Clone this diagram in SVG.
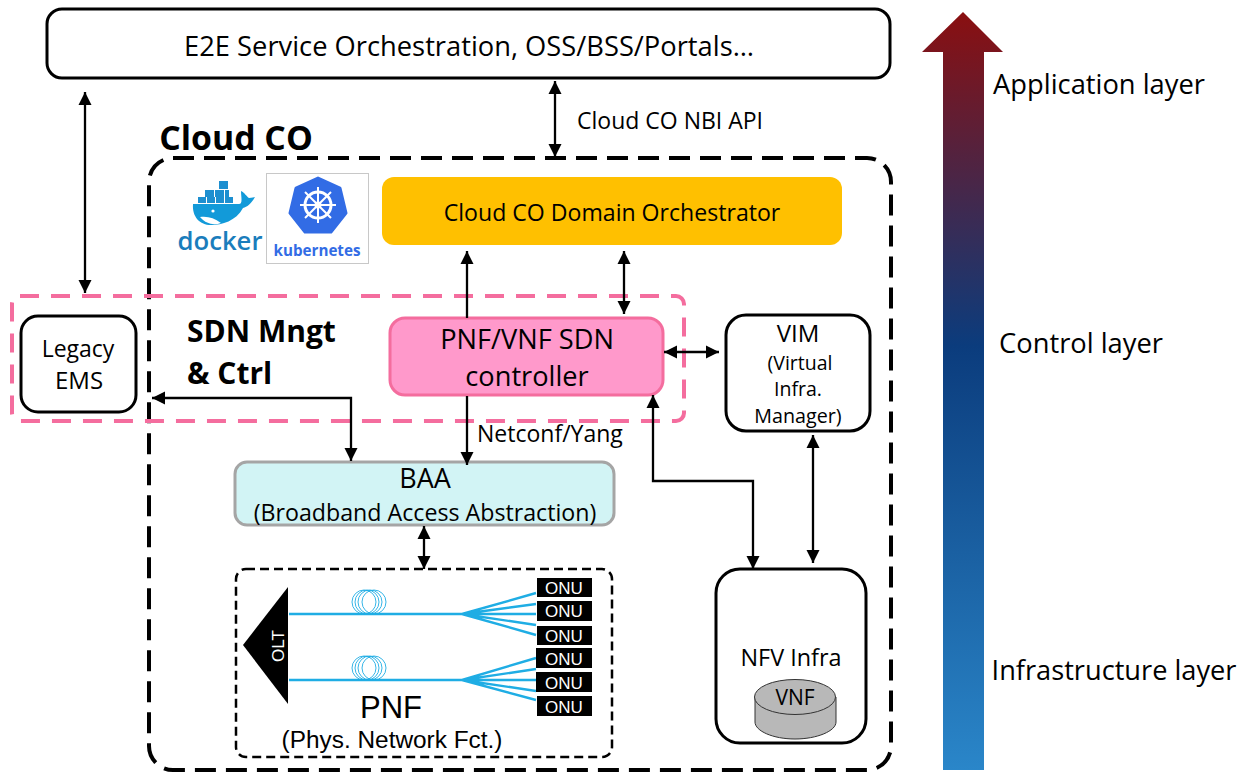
<svg xmlns="http://www.w3.org/2000/svg" width="1247" height="774" viewBox="0 0 1247 774">
<style>
text{font-family:"Open Sans","Noto Sans","Liberation Sans",sans-serif;fill:#000;text-anchor:middle}
.box{fill:#fff;stroke:#000;stroke-width:3}
.c{fill:none;stroke:#000;stroke-width:2.3}
.f{fill:none;stroke:#1fade4;stroke-width:2.4}
.coil{fill:none;stroke:#1fade4;stroke-width:.9}
.onu rect{fill:#000}
.onu text{fill:#fff;font-size:17px;font-family:"Liberation Sans",sans-serif}
.l{text-anchor:start}
</style>
<defs>
<linearGradient id="g" x1="0" y1="0" x2="0" y2="1">
<stop offset="0" stop-color="#8a0f10"/><stop offset=".44" stop-color="#0b3c7d"/><stop offset="1" stop-color="#2a86c9"/>
</linearGradient>
<marker id="a" markerUnits="userSpaceOnUse" markerWidth="14" markerHeight="14" refX="13" refY="7" orient="auto-start-reverse"><path d="M0 .5L13 7L0 13.5Z" fill="#000"/></marker>
</defs>

<g id="layer-arrow">
<path d="M963 12L1003 52H984V770H943V52H922Z" fill="url(#g)"/>
<text x="1099" y="94" font-size="27.300">Application layer</text>
<text x="1081" y="353" font-size="27.300">Control layer</text>
<text x="1114" y="680" font-size="27.200">Infrastructure layer</text>
</g>

<g id="cloud-co-frame">
<rect x="149" y="158" width="742" height="612" rx="24" fill="none" stroke="#000" stroke-width="4" stroke-dasharray="21 10"/>
<text x="236" y="149.500" font-size="33.800" font-weight="700">Cloud CO</text>
</g>

<g id="e2e"><rect class="box" x="47" y="9" width="843" height="69" rx="15"/>
<text x="469" y="56" font-size="27.300">E2E Service Orchestration, OSS/BSS/Portals…</text></g>

<g id="docker">
<g fill="#1d8fd0">
<rect x="219" y="181" width="9" height="8"/><rect x="205" y="190" width="9" height="7"/><rect x="215" y="190" width="9" height="7"/><rect x="225" y="190" width="4" height="7"/>
<rect x="198" y="197" width="8" height="6"/><rect x="207" y="197" width="8" height="6"/><rect x="216" y="197" width="8" height="6"/><rect x="225" y="197" width="8" height="6"/>
<path d="M193 204H239C243 204 241 197 241 191C245 193 247 197 249 198C252 198 254 197 255 197C251 204 247 207 243 208C236 221 222 225 211 225C200 225 192 217 193 204Z" fill="#129ad9"/>
</g>
<path d="M200 217C208 216 214 218 221 223C213 226 205 223 200 217Z" fill="#fff"/>
<circle cx="213" cy="211" r="1.6" fill="#fff"/>
<text x="220" y="250" font-size="25.700" font-weight="600" style="fill:#1a7dbc">docker</text>
</g>

<g id="kubernetes">
<rect x="266.500" y="173.500" width="102" height="90" fill="#fff" stroke="#c8c8c8"/>
<path d="M318 178L340 188L346 213L331 232H305L290 213L296 188Z" fill="#326ce5" stroke="#326ce5" stroke-width="3" stroke-linejoin="round"/>
<circle cx="318" cy="205" r="13" fill="none" stroke="#fff" stroke-width="3"/>
<path d="M318 187V223M300 205H336M305 192L331 218M331 192L305 218" stroke="#fff" stroke-width="2"/>
<circle cx="318" cy="205" r="3.500" fill="#fff"/>
<text x="317" y="255.500" font-size="15.200" font-weight="700" style="fill:#326ce5">kubernetes</text>
</g>

<g id="domain-orchestrator"><rect x="382" y="177" width="460" height="68" rx="12" fill="#ffc000"/>
<text x="612" y="220.500" font-size="23.100">Cloud CO Domain Orchestrator</text></g>

<g id="sdn-frame">
<rect x="12" y="296" width="672" height="125" rx="8" fill="none" stroke="#f46d9e" stroke-width="4" stroke-dasharray="19 12"/>
<text class="l" x="187" y="342" font-size="30" font-weight="700">SDN Mngt</text>
<text class="l" x="187" y="384" font-size="30" font-weight="700">&amp; Ctrl</text>
</g>

<g id="legacy-ems"><rect class="box" x="21" y="316" width="115" height="96" rx="17"/>
<text x="78" y="357" font-size="23">Legacy</text><text x="79" y="389" font-size="24">EMS</text></g>

<g id="sdn-controller"><rect x="390" y="318" width="273" height="77" rx="15" fill="#ff99cb" stroke="#f46d9e" stroke-width="3"/>
<text x="527" y="349" font-size="27.200">PNF/VNF SDN</text><text x="527" y="386" font-size="27.200">controller</text></g>

<g id="vim"><rect class="box" x="726" y="315" width="144" height="116" rx="20"/>
<text x="798" y="342" font-size="24">VIM</text><text x="800" y="370" font-size="19.500">(Virtual</text><text x="798" y="396" font-size="19.500">Infra.</text><text x="798" y="423" font-size="19.700">Manager)</text></g>

<g id="baa"><rect x="235" y="462" width="379" height="63" rx="12" fill="#d2f4f5" stroke="#a5a5a5" stroke-width="3"/>
<text x="425" y="488" font-size="27">BAA</text><text x="425" y="521" font-size="23.200">(Broadband Access Abstraction)</text></g>

<g id="pnf">
<rect x="236" y="569" width="376" height="188" rx="10" fill="none" stroke="#000" stroke-width="2.500" stroke-dasharray="9 5"/>
<path d="M288 587V704L243 645Z" fill="#000"/>
<text transform="translate(284 646) rotate(-90)" font-size="17" style="fill:#fff;font-family:'Liberation Sans',sans-serif">OLT</text>
<path class="f" d="M289 614H462L536 593M462 614L536 604M462 614H536M462 614L536 625M462 614L536 635"/>
<path class="f" d="M289 680H462L536 658M462 680L536 669M462 680H536M462 680L536 691M462 680L536 700"/>
<g class="coil"><ellipse cx="364" cy="602" rx="12" ry="12"/><ellipse cx="367" cy="602" rx="12" ry="12"/><ellipse cx="370" cy="602" rx="12" ry="12"/><ellipse cx="374" cy="602" rx="12" ry="12"/>
<ellipse cx="364" cy="668" rx="12" ry="12"/><ellipse cx="367" cy="668" rx="12" ry="12"/><ellipse cx="370" cy="668" rx="12" ry="12"/><ellipse cx="374" cy="668" rx="12" ry="12"/></g>
<g class="onu">
<rect x="537" y="578" width="55" height="19"/><text x="564" y="593.500">ONU</text>
<rect x="537" y="601" width="55" height="20"/><text x="564" y="617">ONU</text>
<rect x="537" y="626" width="55" height="19"/><text x="564" y="642">ONU</text>
<rect x="536" y="648" width="56" height="20"/><text x="564" y="664.500">ONU</text>
<rect x="536" y="672" width="56" height="20"/><text x="564" y="688.500">ONU</text>
<rect x="537" y="696" width="55" height="20"/><text x="564" y="712.500">ONU</text>
</g>
<text x="391" y="717.500" font-size="31" style="font-family:'Liberation Sans',sans-serif">PNF</text>
<text x="392" y="748" font-size="24.400" style="font-family:'Liberation Sans',sans-serif">(Phys. Network Fct.)</text>
</g>

<g id="nfv-infra"><rect class="box" x="716" y="569" width="150" height="174" rx="24"/>
<text x="791" y="665.500" font-size="23.400">NFV Infra</text>
<path d="M755 697V722C755 731 773 739 795 739C817 739 836 731 836 722V697" fill="#b8b8b8" stroke="#333" stroke-width="1"/>
<ellipse cx="795" cy="697" rx="40.500" ry="17.500" fill="#b8b8b8" stroke="#333" stroke-width="1"/>
<text x="795" y="705" font-size="21">VNF</text></g>

<g id="connectors">
<path class="c" d="M85 92V293" marker-start="url(#a)" marker-end="url(#a)"/>
<path class="c" d="M555 81V157" marker-start="url(#a)" marker-end="url(#a)"/>
<path class="c" d="M467 318V251" marker-end="url(#a)"/>
<path class="c" d="M624 251V314" marker-start="url(#a)" marker-end="url(#a)"/>
<path class="c" d="M664 352H719" marker-start="url(#a)" marker-end="url(#a)"/>
<path class="c" d="M467 396V465" marker-end="url(#a)"/>
<path class="c" d="M152 398H351V461" marker-start="url(#a)" marker-end="url(#a)"/>
<path class="c" d="M653 395V481H753V569" marker-start="url(#a)" marker-end="url(#a)"/>
<path class="c" d="M813 435V563" marker-start="url(#a)" marker-end="url(#a)"/>
<path class="c" d="M424 526V569" marker-start="url(#a)" marker-end="url(#a)"/>
</g>
<g id="connector-labels">
<text class="l" x="577" y="128.500" font-size="23">Cloud CO NBI API</text>
<text class="l" x="477" y="442" font-size="23">Netconf/Yang</text>
</g>
</svg>
